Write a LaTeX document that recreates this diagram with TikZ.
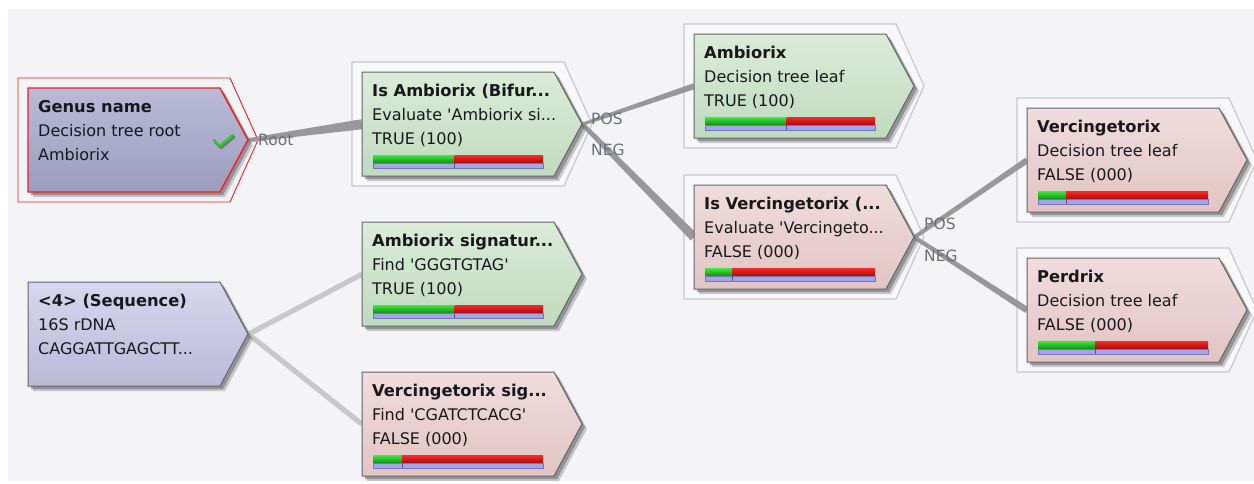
\documentclass[tikz,border=0pt]{standalone}
\usepackage{fontspec}
\setmainfont{DejaVu Sans}
\usetikzlibrary{calc}

\definecolor{canvas}{RGB}{244,244,247}
\definecolor{framefill}{RGB}{248,248,250}
\definecolor{frameline}{RGB}{200,200,204}
\definecolor{boxline}{RGB}{100,100,104}
\definecolor{shadowgray}{RGB}{112,112,116}
\definecolor{greenTop}{RGB}{218,236,216}
\definecolor{greenBot}{RGB}{192,218,190}
\definecolor{pinkTop}{RGB}{240,220,220}
\definecolor{pinkBot}{RGB}{226,196,196}
\definecolor{lavTop}{RGB}{186,186,216}
\definecolor{lavBot}{RGB}{156,156,190}
\definecolor{seqTop}{RGB}{214,214,238}
\definecolor{seqBot}{RGB}{186,186,216}
\definecolor{wire}{RGB}{152,152,152}
\definecolor{wirelight}{RGB}{200,200,200}
\definecolor{labelgray}{RGB}{108,110,122}
\definecolor{ink}{RGB}{24,24,28}
\definecolor{barGtop}{RGB}{60,236,60}
\definecolor{barGbot}{RGB}{20,140,20}
\definecolor{barRtop}{RGB}{255,40,40}
\definecolor{barRbot}{RGB}{160,14,14}
\definecolor{barB}{RGB}{164,164,236}
\definecolor{barBline}{RGB}{118,118,176}
\definecolor{selred}{RGB}{242,30,30}
\definecolor{tickgreen}{RGB}{30,210,30}

\tikzset{
  txt/.style={anchor=base west, inner sep=0, text=ink, font=\fontsize{16}{18}\selectfont},
  ttl/.style={txt, font=\fontsize{16.3}{18}\selectfont\bfseries},
  lbl/.style={anchor=base west, inner sep=0, text=labelgray, font=\fontsize{15.5}{18}\selectfont},
  place/.style={anchor=north west, inner sep=0, minimum width=220, minimum height=104},
  greenbox/.style={draw=boxline, line width=1pt, top color=greenTop, bottom color=greenBot},
  pinkbox/.style={draw=boxline, line width=1pt, top color=pinkTop, bottom color=pinkBot},
  rootbox/.style={draw=selred, line width=1.4pt, top color=lavTop, bottom color=lavBot},
  seqbox/.style={draw=boxline, line width=1pt, top color=seqTop, bottom color=seqBot},
  plainframe/.style={fill=framefill, draw=frameline, line width=1.2pt},
  selframe/.style={fill=canvas, draw=selred, line width=0.9pt},
}

% outer highlight around a box whose top-left corner is (#1,#2)
\newcommand\frameshape[3]{%
  \filldraw[#3] (#1-10,#2-10) -- (#1+202,#2-10) -- (#1+230,#2+52)
    -- (#1+202,#2+114) -- (#1-10,#2+114) -- cycle;}

% pointed box with a soft drop shadow
\newcommand\boxshape[3]{%
  \fill[shadowgray, opacity=.35] (#1+5,#2+5) -- (#1+197,#2+5) -- (#1+225,#2+57)
    -- (#1+197,#2+109) -- (#1+5,#2+109) -- cycle;
  \fill[shadowgray, opacity=.6] (#1+3,#2+3) -- (#1+195,#2+3) -- (#1+223,#2+55)
    -- (#1+195,#2+107) -- (#1+3,#2+107) -- cycle;
  \path[#3] (#1,#2) -- (#1+192,#2) -- (#1+220,#2+52)
    -- (#1+192,#2+104) -- (#1,#2+104) -- cycle;}

% three text lines of a box
\newcommand\boxlabel[6]{%
  \node[ttl] (#1-a) at (#2+10,#3+24) {#4};
  \node[txt] (#1-b) at (#2+10,#3+48) {#5};
  \node[txt] (#1-c) at (#2+10,#3+72) {#6};}

% score bar: green/red split at fraction #3, lavender strip below
\newcommand\scorebar[3]{%
  \pgfmathsetmacro\barcut{#1+11+170*#3}%
  \shade[top color=barGtop, bottom color=barGbot] (#1+11,#2+83) rectangle (\barcut,#2+91);
  \shade[top color=barRtop, bottom color=barRbot] (\barcut,#2+83) rectangle (#1+181,#2+91);
  \filldraw[fill=barB, draw=barBline, line width=0.6pt] (#1+11,#2+91) rectangle (#1+181,#2+96);
  \draw[barBline!70!black, line width=0.6pt] (\barcut,#2+91) -- (\barcut,#2+96);}

% tapered connector from node #1 to node #2, half widths #3 and #4
\newcommand\wire[5]{%
  \fill[#5] ($(#1.east)!#3!90:(#2.west)$) -- ($(#2.west)!#4!-90:(#1.east)$)
    -- ($(#2.west)!#4!90:(#1.east)$) -- ($(#1.east)!#3!-90:(#2.west)$) -- cycle;}

\begin{document}
\begin{tikzpicture}[x=1pt, y=-1pt]
\useasboundingbox (0,0) rectangle (1254,483);
\fill[white] (0,0) rectangle (1254,483);
\fill[canvas] (8,9) rectangle (1254,481);

% placement of the boxes
\node[place] (genus)  at (28,88)   {};
\node[place] (ambq)   at (362,72)  {};
\node[place] (amb)    at (694,34)  {};
\node[place] (verq)   at (694,185) {};
\node[place] (ver)    at (1027,108) {};
\node[place] (per)    at (1027,258) {};
\node[place] (seq)    at (28,282)  {};
\node[place] (ambsig) at (362,222) {};
\node[place] (versig) at (362,372) {};

% highlight frames
\frameshape{28}{88}{selframe}
\frameshape{362}{72}{plainframe}
\frameshape{694}{34}{plainframe}
\frameshape{694}{185}{plainframe}
\frameshape{1027}{108}{plainframe}
\frameshape{1027}{258}{plainframe}

% connectors
\wire{genus}{ambq}{2pt}{5pt}{wire}
\wire{ambq}{amb}{1.6pt}{3pt}{wire}
\wire{ambq}{verq}{2.2pt}{4.5pt}{wire}
\wire{verq}{ver}{2pt}{3pt}{wire}
\wire{verq}{per}{2pt}{3.2pt}{wire}
\wire{seq}{ambsig}{2.6pt}{2.6pt}{wirelight}
\wire{seq}{versig}{2.6pt}{2.6pt}{wirelight}

% boxes
\boxshape{28}{88}{rootbox}
\boxshape{362}{72}{greenbox}
\boxshape{694}{34}{greenbox}
\boxshape{694}{185}{pinkbox}
\boxshape{1027}{108}{pinkbox}
\boxshape{1027}{258}{pinkbox}
\boxshape{28}{282}{seqbox}
\boxshape{362}{222}{greenbox}
\boxshape{362}{372}{pinkbox}

% texts
\boxlabel{genus}{28}{88}{Genus name}{Decision tree root}{Ambiorix}
\boxlabel{ambq}{362}{72}{Is Ambiorix (Bifur...}{Evaluate \textquotesingle Ambiorix si...}{TRUE (100)}
\boxlabel{amb}{694}{34}{Ambiorix}{Decision tree leaf}{TRUE (100)}
\boxlabel{verq}{694}{185}{Is Vercingetorix (...}{Evaluate \textquotesingle Vercingeto...}{FALSE (000)}
\boxlabel{ver}{1027}{108}{Vercingetorix}{Decision tree leaf}{FALSE (000)}
\boxlabel{per}{1027}{258}{Perdrix}{Decision tree leaf}{FALSE (000)}
\boxlabel{seq}{28}{282}{<4> (Sequence)}{16S rDNA}{CAGGATTGAGCTT...}
\boxlabel{ambsig}{362}{222}{Ambiorix signatur...}{Find \textquotesingle GGGTGTAG\textquotesingle}{TRUE (100)}
\boxlabel{versig}{362}{372}{Vercingetorix sig...}{Find \textquotesingle CGATCTCACG\textquotesingle}{FALSE (000)}

% score bars
\scorebar{362}{72}{0.48}
\scorebar{694}{34}{0.48}
\scorebar{694}{185}{0.16}
\scorebar{1027}{108}{0.165}
\scorebar{1027}{258}{0.335}
\scorebar{362}{222}{0.48}
\scorebar{362}{372}{0.17}

% check mark on the root
\draw[black!55, line width=2.4pt, line cap=round, line join=round] (215,142) -- (221,148) -- (234,137);
\draw[tickgreen, line width=2.4pt, line cap=round, line join=round] (214,140) -- (220,146) -- (233,135);

% branch labels
\node[lbl] (lbl-root) at (258,145) {Root};
\node[lbl] (lbl-pos1) at (591,124) {POS};
\node[lbl] (lbl-neg1) at (591,155) {NEG};
\node[lbl] (lbl-pos2) at (924,229) {POS};
\node[lbl] (lbl-neg2) at (924,261) {NEG};
\end{tikzpicture}
\end{document}
